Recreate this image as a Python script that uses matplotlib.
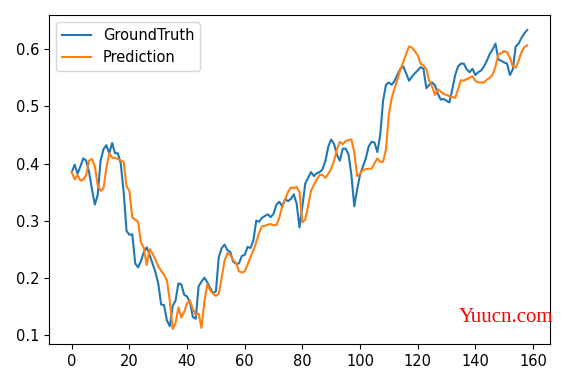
import numpy as np
import matplotlib
matplotlib.use('Agg')
import matplotlib.pyplot as plt

# Values
ground_truth = [
    0.385, 0.398, 0.382, 0.395, 0.409, 0.405, 0.385, 0.355, 0.328, 0.345,
    0.405, 0.425, 0.432, 0.418, 0.436, 0.418, 0.418, 0.400, 0.350, 0.282,
    0.275, 0.276, 0.225, 0.218, 0.229, 0.245, 0.253, 0.240, 0.225, 0.210,
    0.190, 0.153, 0.152, 0.125, 0.115, 0.150, 0.160, 0.190, 0.188, 0.170,
    0.167, 0.157, 0.131, 0.128, 0.185, 0.193, 0.200, 0.192, 0.182, 0.173,
    0.176, 0.236, 0.252, 0.258, 0.248, 0.245, 0.228, 0.224, 0.225, 0.238,
    0.240, 0.254, 0.252, 0.265, 0.300, 0.298, 0.305, 0.308, 0.311, 0.306,
    0.312, 0.328, 0.333, 0.325, 0.338, 0.334, 0.338, 0.346, 0.330, 0.288,
    0.325, 0.365, 0.375, 0.385, 0.378, 0.383, 0.385, 0.390, 0.405, 0.430,
    0.442, 0.434, 0.415, 0.405, 0.426, 0.426, 0.416, 0.380, 0.325, 0.355,
    0.380, 0.395, 0.409, 0.430, 0.438, 0.437, 0.420, 0.450, 0.510, 0.538,
    0.542, 0.538, 0.545, 0.556, 0.566, 0.570, 0.558, 0.545, 0.552, 0.558,
    0.563, 0.569, 0.566, 0.532, 0.538, 0.542, 0.537, 0.522, 0.512, 0.513,
    0.510, 0.507, 0.530, 0.555, 0.570, 0.575, 0.575, 0.565, 0.560, 0.566,
    0.555, 0.560, 0.563, 0.570, 0.580, 0.592, 0.600, 0.610, 0.582, 0.580,
    0.577, 0.575, 0.555, 0.565, 0.605, 0.610, 0.620, 0.628, 0.634,
]

prediction = [
    0.385, 0.372, 0.380, 0.370, 0.372, 0.380, 0.405, 0.408, 0.395, 0.362,
    0.352, 0.356, 0.392, 0.418, 0.410, 0.410, 0.408, 0.405, 0.403, 0.360,
    0.352, 0.305, 0.302, 0.298, 0.262, 0.252, 0.222, 0.250, 0.242, 0.232,
    0.220, 0.212, 0.205, 0.195, 0.160, 0.110, 0.120, 0.148, 0.130, 0.140,
    0.155, 0.160, 0.145, 0.135, 0.137, 0.112, 0.158, 0.188, 0.178, 0.172,
    0.168, 0.172, 0.200, 0.230, 0.243, 0.240, 0.230, 0.226, 0.211, 0.209,
    0.211, 0.223, 0.236, 0.248, 0.262, 0.279, 0.290, 0.291, 0.293, 0.294,
    0.292, 0.292, 0.305, 0.325, 0.337, 0.350, 0.358, 0.357, 0.359, 0.350,
    0.297, 0.302, 0.326, 0.352, 0.363, 0.372, 0.380, 0.380, 0.375, 0.382,
    0.391, 0.405, 0.425, 0.438, 0.434, 0.439, 0.441, 0.442, 0.420, 0.378,
    0.382, 0.389, 0.390, 0.391, 0.391, 0.400, 0.409, 0.403, 0.403, 0.425,
    0.486, 0.515, 0.532, 0.548, 0.565, 0.578, 0.592, 0.605, 0.603, 0.597,
    0.590, 0.575, 0.572, 0.565, 0.545, 0.535, 0.520, 0.530, 0.526, 0.522,
    0.520, 0.518, 0.517, 0.515, 0.530, 0.546, 0.545, 0.548, 0.550, 0.553,
    0.545, 0.542, 0.542, 0.542, 0.547, 0.550, 0.556, 0.570, 0.592, 0.593,
    0.597, 0.595, 0.585, 0.570, 0.568, 0.580, 0.595, 0.604, 0.607,
]

plt.rcParams['font.size'] = 10.5

fig = plt.figure(figsize=(5.65, 3.73), dpi=100)
ax = fig.add_axes([49 / 565, 1 - 344 / 373, 501 / 565, 329 / 373])

ax.plot(np.arange(len(ground_truth)), ground_truth, label='GroundTruth')
ax.plot(np.arange(len(prediction)), prediction, label='Prediction')
ax.set_xticks(np.arange(0, 161, 20))
ax.legend(loc='upper left')

# watermark in the lower right corner
fig.text(0.979, 0.148, 'Yuucn.com', color='red', fontsize=15,
         family='Liberation Serif', ha='right', va='center')

fig.savefig('out.png', dpi=100)
